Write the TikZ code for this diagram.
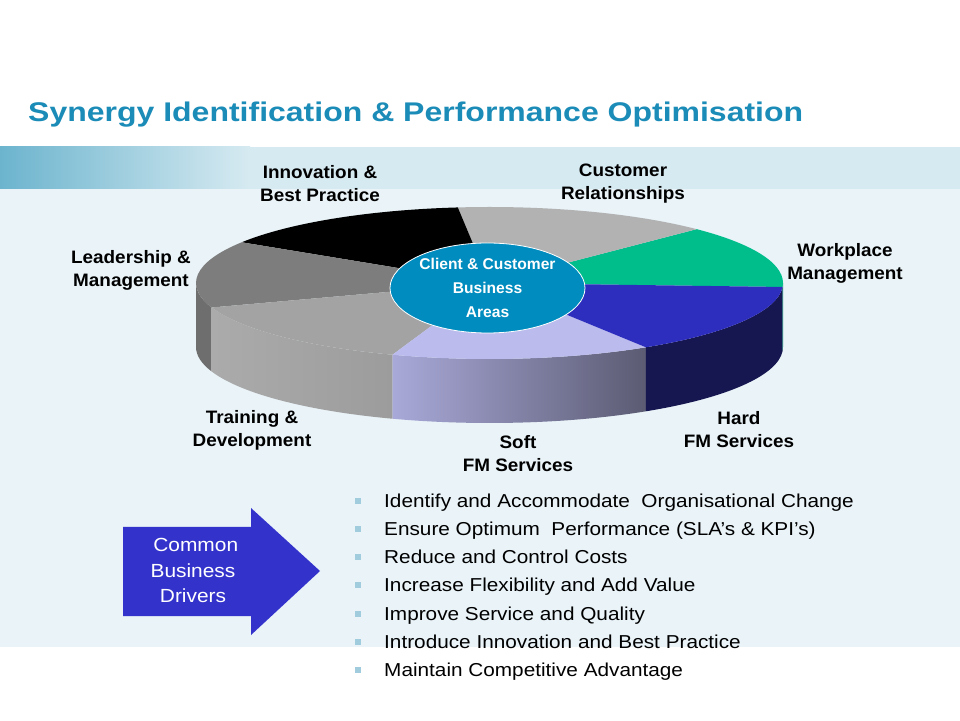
\documentclass[tikz,border=0pt]{standalone}
\usepackage{fontspec}
\setmainfont{Liberation Sans}
\usepackage{graphicx}
\usetikzlibrary{shapes.geometric}
\definecolor{titleblue}{RGB}{27,139,183}
\definecolor{bandlight}{RGB}{214,234,241}
\definecolor{banddark}{RGB}{108,180,206}
\definecolor{pale}{RGB}{233,243,248}
\definecolor{arrowblue}{RGB}{51,51,204}
\definecolor{bulletsq}{RGB}{160,204,222}
\definecolor{ellblue}{RGB}{0,140,190}
\definecolor{wpgreen}{RGB}{0,190,140}
\definecolor{wpgreendark}{RGB}{0,150,110}
\definecolor{custgray}{RGB}{178,178,178}
\definecolor{leadtop}{RGB}{125,125,125}
\definecolor{leadside}{RGB}{110,110,110}
\definecolor{traintop}{RGB}{163,163,163}
\definecolor{trainL}{RGB}{171,171,171}
\definecolor{trainR}{RGB}{156,156,156}
\definecolor{softtop}{RGB}{187,187,237}
\definecolor{softL}{RGB}{169,169,217}
\definecolor{softR}{RGB}{91,91,115}
\definecolor{hardtop}{RGB}{46,46,190}
\definecolor{hardside}{RGB}{22,22,80}
\newcommand\pieside[3]{\path[#1] (#2:293.5 and 76) arc[start angle=#2,end angle=#3,x radius=293.5,y radius=76] -- ++(0,-64) arc[start angle=#3,end angle=#2,x radius=293.5,y radius=76] -- cycle;}
\newcommand\pietop[3]{\path[#1] (0,0) -- (#2:293.5 and 76) arc[start angle=#2,end angle=#3,x radius=293.5,y radius=76] -- cycle;}
\begin{document}
\begin{tikzpicture}[x=1pt,y=1pt,
  lbl/.style={font=\fontsize{18}{23}\selectfont\bfseries, align=center, inner sep=0pt, xscale=1.05},
  bul/.style={font=\fontsize{18.7}{22}\selectfont, anchor=base west, inner sep=0pt, xscale=1.11},
  sq/.style={fill=bulletsq, minimum size=6pt, inner sep=0pt}]
\useasboundingbox (0,0) rectangle (960,720);
\fill[white] (0,0) rectangle (960,720);
\fill[pale] (0,73) rectangle (960,531);
\shade[left color=banddark, right color=bandlight] (0,531) rectangle (250,573);
\fill[bandlight] (249.5,531) rectangle (960,573);
\node[anchor=base west, text=titleblue, inner sep=0pt] (title) at (28,598.7)
  {\resizebox{775pt}{\height}{\fontsize{27}{30}\selectfont\bfseries Synergy Identification \& Performance Optimisation}};
% pie
\begin{scope}[shift={(489.5,437)}]
  \pieside{fill=leadside}{180}{198.8}
  \pieside{left color=trainL, right color=trainR}{198.8}{250.7}
  \pieside{left color=softL, right color=softR}{250.7}{302.2}
  \pieside{fill=hardside}{302.2}{357}
  \pieside{fill=wpgreendark}{357}{360}
  \pietop{fill=wpgreen}{-3}{45.1}
  \pietop{fill=custgray}{45.1}{96.2}
  \pietop{fill=black}{96.2}{147.6}
  \pietop{fill=leadtop}{147.6}{198.8}
  \pietop{fill=traintop}{198.8}{250.7}
  \pietop{fill=softtop}{250.7}{302.2}
  \pietop{fill=hardtop}{302.2}{357}
\end{scope}
\node[ellipse, fill=ellblue, draw=white, line width=0.8pt, minimum width=195pt, minimum height=90pt, inner sep=0pt,
  text=white, align=center, font=\fontsize{15.6}{24}\selectfont\bfseries] (hub) at (487.5,432)
  {Client \& Customer\\Business\\Areas};
% labels
\node[lbl] (innov) at (320,536) {Innovation \&\\Best Practice};
\node[lbl] (cust) at (623,536) {Customer\\Relationships};
\node[lbl] (work) at (845,457) {Workplace\\Management};
\node[lbl] (lead) at (131,450) {Leadership \&\\Management};
\node[lbl] (train) at (252,290) {Training \&\\Development};
\node[lbl] (soft) at (518,266) {Soft\\FM Services};
\node[lbl] (hard) at (739,290) {Hard\\FM Services};
% arrow
\fill[arrowblue] (123,193) -- (251,193) -- (251,212) -- (320,149) -- (251,85) -- (251,104) -- (123,104) -- cycle;
\node[text=white, align=center, inner sep=0pt, font=\fontsize{19}{25.5}\selectfont, xscale=1.1] (drivers) at (193,149.5)
  {\hspace*{5pt}Common\\Business\\Drivers};
% bullets
\foreach \yy/\tt [count=\i] in {212.7/{Identify and Accommodate \ Organisational Change},
  184.5/{Ensure Optimum \ Performance (SLA’s \& KPI’s)},
  156.3/{Reduce and Control Costs},
  128.1/{Increase Flexibility and Add Value},
  99.9/{Improve Service and Quality},
  71.7/{Introduce Innovation and Best Practice},
  43.5/{Maintain Competitive Advantage}}{
  \node[sq] (sq\i) at (357.5,\yy+6.5) {};
  \node[bul] (b\i) at (384,\yy) {\tt};
}
\end{tikzpicture}
\end{document}
